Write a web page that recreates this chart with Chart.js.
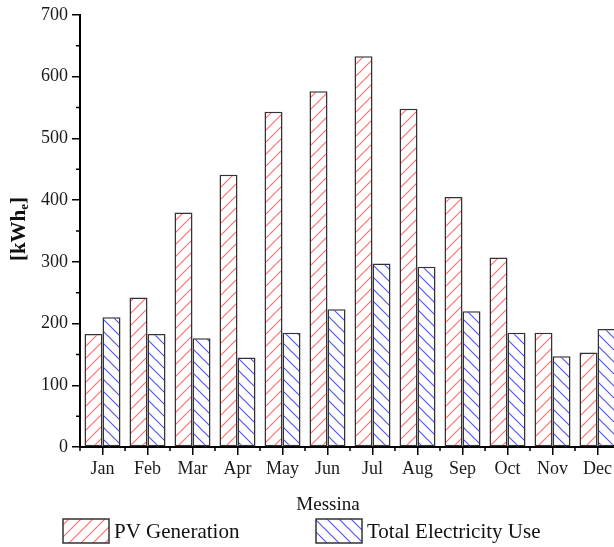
<!DOCTYPE html>
<html>
<head>
<meta charset="utf-8">
<script src="https://cdn.jsdelivr.net/npm/chart.js@4"></script>
<style>
  html, body { margin: 0; padding: 0; background: #fff; }
  #wrap { width: 614px; height: 547px; overflow: hidden; position: relative; }
  canvas { display: block; }
</style>
</head>
<body>
<div id="wrap"><canvas id="chart" width="620" height="547"></canvas></div>
<script>
const months = ['Jan', 'Feb', 'Mar', 'Apr', 'May', 'Jun', 'Jul', 'Aug', 'Sep', 'Oct', 'Nov', 'Dec'];
const pvGeneration = [183, 242, 380, 441, 543, 576, 633, 548, 405, 307, 185, 153];
const totalElectricityUse = [210, 183, 176, 145, 185, 223, 297, 292, 220, 185, 147, 191];
const seriesNames = ['PV Generation', 'Total Electricity Use'];
const xTitle = 'Messina';
const yTicks = [0, 100, 200, 300, 400, 500, 600, 700];

const serif = "'Liberation Serif', 'Times New Roman', serif";

// hatch fill, '/' or '\'
function hatch(color, dir) {
  const s = 12;
  const c = document.createElement('canvas');
  c.width = c.height = s;
  const g = c.getContext('2d');
  g.fillStyle = '#fff';
  g.fillRect(0, 0, s, s);
  g.strokeStyle = color;
  g.lineWidth = 1.1;
  g.beginPath();
  if (dir === '/') {
    g.moveTo(0, s); g.lineTo(s, 0);
    g.moveTo(-2, 2); g.lineTo(2, -2);
    g.moveTo(s - 2, s + 2); g.lineTo(s + 2, s - 2);
  } else {
    g.moveTo(0, 0); g.lineTo(s, s);
    g.moveTo(-2, s - 2); g.lineTo(2, s + 2);
    g.moveTo(s - 2, -2); g.lineTo(s + 2, 2);
  }
  g.stroke();
  return g.createPattern(c, 'repeat');
}

const redFill = hatch('#ff6b6b', '/');
const blueFill = hatch('#5050ff', '\\');

// minor ticks, y title, x title and legend
const extras = {
  id: 'extras',
  afterDraw(chart) {
    const ctx = chart.ctx;
    const area = chart.chartArea;
    const ys = chart.scales.y;
    ctx.save();
    ctx.strokeStyle = '#000';
    ctx.lineWidth = 1.5;
    ctx.beginPath();
    for (let i = 0; i < yTicks.length - 1; i++) {
      const y = ys.getPixelForValue((yTicks[i] + yTicks[i + 1]) / 2);
      ctx.moveTo(area.left - 4, y); ctx.lineTo(area.left, y);
    }
    const step = (area.right - area.left) / months.length;
    for (let i = 0; i <= months.length; i++) {
      const x = area.left + i * step;
      ctx.moveTo(x, area.bottom); ctx.lineTo(x, area.bottom + 4);
    }
    ctx.stroke();

    // y title with subscript
    ctx.fillStyle = '#111';
    ctx.translate(20, 229);
    ctx.rotate(-Math.PI / 2);
    const big = 'bold 21px ' + serif, small = 'bold 13px ' + serif;
    ctx.font = big; const w1 = ctx.measureText('[kWh').width; const w3 = ctx.measureText(']').width;
    ctx.font = small; const w2 = ctx.measureText('e').width;
    let tx = -(w1 + w2 + w3) / 2;
    ctx.textBaseline = 'middle';
    ctx.textAlign = 'left';
    ctx.font = big; ctx.fillText('[kWh', tx, 0); tx += w1;
    ctx.font = small; ctx.fillText('e', tx, 5); tx += w2;
    ctx.font = big; ctx.fillText(']', tx, 0);
    ctx.setTransform(1, 0, 0, 1, 0, 0);

    // x title
    ctx.textBaseline = 'alphabetic';
    ctx.textAlign = 'center';
    ctx.font = '19px ' + serif;
    ctx.fillText(xTitle, 328, 510);

    // legend
    const items = [[63, redFill, seriesNames[0]], [316, blueFill, seriesNames[1]]];
    ctx.textAlign = 'left';
    ctx.font = '21px ' + serif;
    items.forEach(([x, fill, label]) => {
      ctx.fillStyle = fill;
      ctx.fillRect(x, 519, 46, 24);
      ctx.strokeStyle = '#333';
      ctx.lineWidth = 1.5;
      ctx.strokeRect(x, 519, 46, 24);
      ctx.fillStyle = '#111';
      ctx.fillText(label, x + 51, 538);
    });
    ctx.restore();
  }
};

new Chart(document.getElementById('chart'), {
  type: 'bar',
  data: {
    labels: months,
    datasets: [
      {
        label: seriesNames[0],
        data: pvGeneration,
        backgroundColor: redFill,
        borderColor: '#333',
        borderWidth: 1.5,
        borderSkipped: false
      },
      {
        label: seriesNames[1],
        data: totalElectricityUse,
        backgroundColor: blueFill,
        borderColor: '#333',
        borderWidth: 1.5,
        borderSkipped: false
      }
    ]
  },
  options: {
    responsive: false,
    animation: false,
    devicePixelRatio: 1,
    layout: { padding: { top: 14, right: 0, left: 0, bottom: 0 } },
    datasets: { bar: { categoryPercentage: 0.8, barPercentage: 1.0 } },
    plugins: {
      legend: { display: false },
      tooltip: { enabled: false }
    },
    scales: {
      x: {
        offset: true,
        grid: { display: true, drawOnChartArea: false, drawTicks: true, tickLength: 8, color: '#000', lineWidth: 1.5, offset: false },
        border: { display: true, color: '#000', width: 2 },
        ticks: { font: { family: serif, size: 18 }, color: '#1a1a1a', padding: 3, maxRotation: 0 },
        afterFit: s => { s.height = 100; }
      },
      y: {
        min: 0,
        max: 700,
        grid: { display: true, drawOnChartArea: false, drawTicks: true, tickLength: 8, color: '#000', lineWidth: 1.5 },
        border: { display: true, color: '#000', width: 2 },
        ticks: { stepSize: 100, font: { family: serif, size: 18 }, color: '#1a1a1a', padding: 4 },
        afterFit: s => { s.width = 80; }
      }
    }
  },
  plugins: [extras]
});
</script>
</body>
</html>
